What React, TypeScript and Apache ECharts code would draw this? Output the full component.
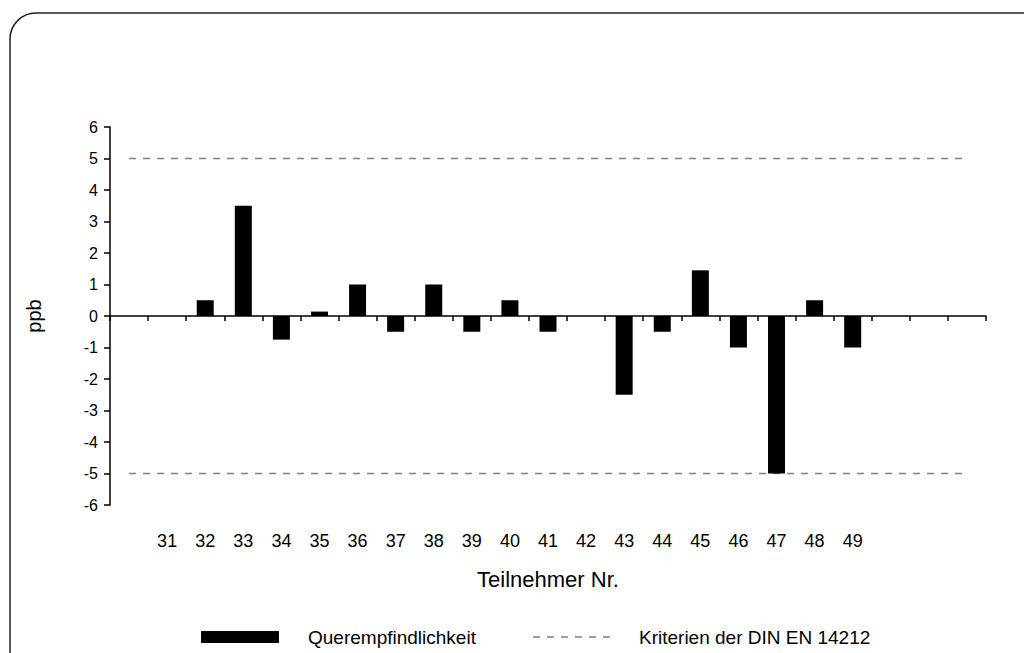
import React, { useEffect, useRef } from "react";
import * as echarts from "echarts";

const categories = ["", "31", "32", "33", "34", "35", "36", "37", "38", "39", "40", "41", "42", "43", "44", "45", "46", "47", "48", "49", "", "", ""];
const querempfindlichkeit = [null, null, 0.5, 3.5, -0.75, 0.14, 1, -0.5, 1, -0.5, 0.5, -0.5, null, -2.5, -0.5, 1.45, -1, -5, 0.5, -1, null, null, null];
const upperLimit = [5, 5, 5, 5, 5, 5, 5, 5, 5, 5, 5, 5, 5, 5, 5, 5, 5, 5, 5, 5, 5, 5, 5];
const lowerLimit = [-5, -5, -5, -5, -5, -5, -5, -5, -5, -5, -5, -5, -5, -5, -5, -5, -5, -5, -5, -5, -5, -5, -5];
const barName = "Querempfindlichkeit";
const lineName = "Kriterien der DIN EN 14212";

const FONT = "'Liberation Sans', Arial, sans-serif";

export default function App() {
  const ref = useRef<HTMLDivElement>(null);
  useEffect(() => {
    if (!ref.current) return;
    const chart = echarts.init(ref.current, null, { renderer: "svg" });
    chart.setOption({
      animation: false,
      backgroundColor: "#ffffff",
      textStyle: { fontFamily: FONT },
      grid: { left: 110, right: 38, top: 127, bottom: 148, containLabel: false },
      xAxis: [
        {
          type: "category",
          data: categories,
          position: "bottom",
          axisLine: { show: true, onZero: true, lineStyle: { color: "#000", width: 1.5 } },
          axisTick: { show: true, length: 5, lineStyle: { color: "#000", width: 1.5 } },
          axisLabel: { show: false },
          splitLine: { show: false },
        },
        {
          type: "category",
          data: categories,
          position: "bottom",
          gridIndex: 0,
          axisLine: { show: false, onZero: false },
          axisTick: { show: false },
          axisLabel: { show: true, color: "#000", fontSize: 18, margin: 27, fontFamily: FONT, interval: 0 },
          name: "Teilnehmer Nr.",
          nameLocation: "middle",
          nameGap: 63,
          nameTextStyle: { color: "#000", fontSize: 22, fontFamily: FONT },
          splitLine: { show: false },
        },
      ],
      yAxis: {
        type: "value",
        min: -6,
        max: 6,
        interval: 1,
        axisLine: { show: true, lineStyle: { color: "#000", width: 1.5 } },
        axisTick: { show: true, length: 6, lineStyle: { color: "#000", width: 1.5 } },
        axisLabel: { color: "#000", fontSize: 16, margin: 12, fontFamily: FONT },
        splitLine: { show: false },
        name: "ppb",
        nameLocation: "middle",
        nameGap: 66,
        nameTextStyle: { color: "#000", fontSize: 20, fontFamily: FONT },
      },
      series: [
        {
          name: lineName,
          type: "line",
          xAxisIndex: 0,
          data: upperLimit,
          symbol: "none",
          lineStyle: { color: "#808080", width: 1.5, type: [7, 7] },
          z: 1,
        },
        {
          name: lineName,
          type: "line",
          xAxisIndex: 0,
          data: lowerLimit,
          symbol: "none",
          lineStyle: { color: "#808080", width: 1.5, type: [7, 7] },
          z: 1,
        },
        {
          name: barName,
          type: "bar",
          xAxisIndex: 0,
          data: querempfindlichkeit,
          barWidth: 17,
          itemStyle: { color: "#000" },
          z: 3,
        },
      ],
      graphic: [
        {
          type: "rect",
          shape: { x: 10, y: 13, width: 1100, height: 700, r: 26 },
          style: { fill: "none", stroke: "#222", lineWidth: 1.5 },
          silent: true,
        },
        {
          type: "rect",
          shape: { x: 201, y: 631, width: 78, height: 12 },
          style: { fill: "#000" },
        },
        {
          type: "text",
          x: 308,
          y: 637,
          style: { text: barName, fill: "#000", fontSize: 19, fontFamily: FONT, verticalAlign: "middle" },
        },
        {
          type: "line",
          shape: { x1: 533, y1: 637, x2: 610, y2: 637 },
          style: { stroke: "#808080", lineWidth: 1.5, lineDash: [7, 7] },
        },
        {
          type: "text",
          x: 639,
          y: 637,
          style: { text: lineName, fill: "#000", fontSize: 19, fontFamily: FONT, verticalAlign: "middle" },
        },
      ],
    });
    return () => chart.dispose();
  }, []);
  return <div ref={ref} style={{ position: "fixed", left: 0, top: 0, width: 1024, height: 653 }} />;
}
